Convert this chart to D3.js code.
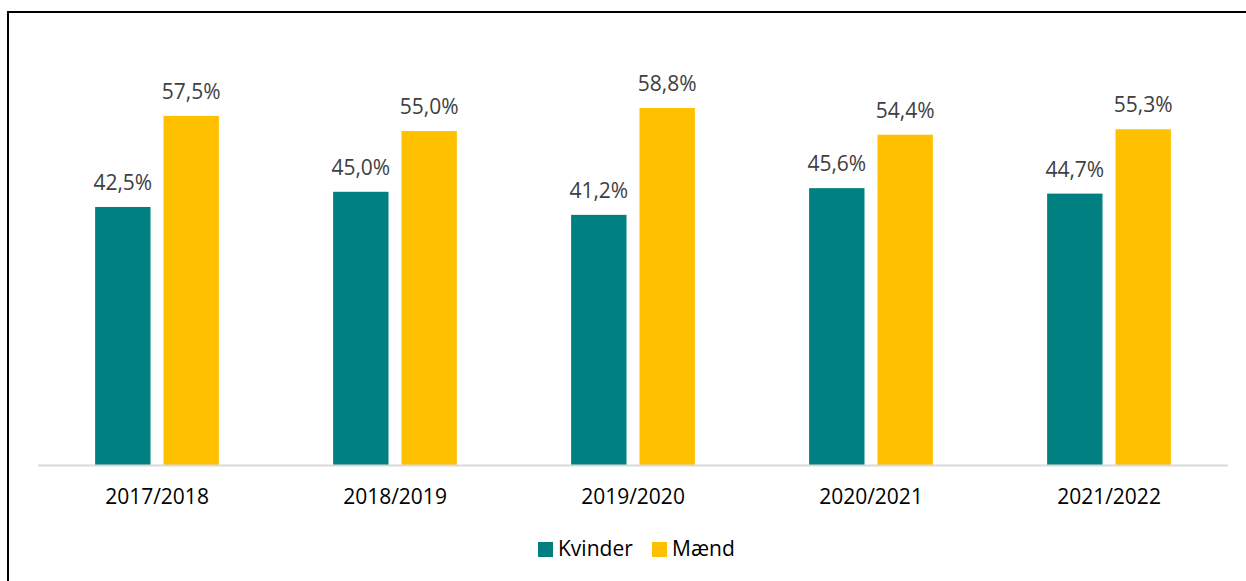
<!DOCTYPE html>
<html lang="da">
<head>
    <meta charset="UTF-8">
    <title>Kvinder og mænd</title>
    <script src="https://d3js.org/d3.v7.min.js"></script>
    <style>
        body { margin: 0; background: #fff; }
        text { font-family: "Open Sans", "Noto Sans", sans-serif; }
        .value { font-size: 21px; fill: #404040; }
        .cat { font-size: 21px; fill: #000; }
        .legend text { font-size: 21px; fill: #000; }
    </style>
</head>
<body>
    <svg width="1246" height="581"></svg>

    <script>
        const years = ["2017/2018", "2018/2019", "2019/2020", "2020/2021", "2021/2022"];
        const kvinder = [42.5, 45.0, 41.2, 45.6, 44.7];
        const maend = [57.5, 55.0, 58.8, 54.4, 55.3];
        const seriesNames = ["Kvinder", "Mænd"];
        const colors = ["#008080", "#FFC000"];

        const svg = d3.select("svg");

        // frame (only top and left visible)
        svg.append("line").attr("x1", 8).attr("x2", 1246).attr("y1", 12).attr("y2", 12)
            .attr("stroke", "#000").attr("stroke-width", 2);
        svg.append("line").attr("x1", 8).attr("x2", 8).attr("y1", 11).attr("y2", 581)
            .attr("stroke", "#000").attr("stroke-width", 2);

        const x = d3.scaleBand().domain(years).range([38, 1228]).paddingInner(0.48).paddingOuter(0.24);
        const xs = d3.scaleBand().domain(seriesNames).range([0, x.bandwidth()]).paddingInner(0.19);
        const y = d3.scaleLinear().domain([0, 70]).range([465, 40]);

        const fmt = v => d3.format(".1f")(v).replace(".", ",") + "%";

        const rows = years.map((yr, i) => ({ year: yr, values: [kvinder[i], maend[i]] }));

        const groups = svg.append("g").selectAll("g")
            .data(rows)
            .enter().append("g")
            .attr("transform", d => `translate(${x(d.year)},0)`);

        const cells = groups.selectAll("g")
            .data(d => d.values.map((v, j) => ({ name: seriesNames[j], v: v, c: colors[j] })))
            .enter().append("g");

        cells.append("rect")
            .attr("x", d => xs(d.name))
            .attr("y", d => y(d.v))
            .attr("width", xs.bandwidth())
            .attr("height", d => y(0) - y(d.v))
            .attr("fill", d => d.c);

        cells.append("text")
            .attr("class", "value")
            .attr("x", d => xs(d.name) + xs.bandwidth() / 2)
            .attr("y", d => y(d.v) - 17)
            .attr("text-anchor", "middle")
            .text(d => fmt(d.v));

        // baseline
        svg.append("line").attr("x1", 38).attr("x2", 1228).attr("y1", y(0) + 0.5).attr("y2", y(0) + 0.5)
            .attr("stroke", "#d9d9d9").attr("stroke-width", 2);

        const xAxis = svg.append("g")
            .attr("transform", `translate(0,${y(0)})`)
            .call(d3.axisBottom(x).tickSize(0).tickPadding(0));
        xAxis.select(".domain").remove();
        xAxis.selectAll("text")
            .attr("class", "cat")
            .attr("dy", null)
            .attr("y", 39)
            .attr("font-family", null)
            .attr("font-size", null)
            .attr("fill", null);

        // legend
        const legend = svg.append("g").attr("class", "legend");
        const legX = [538, 652];
        seriesNames.forEach((n, i) => {
            legend.append("rect").attr("x", legX[i]).attr("y", 542).attr("width", 15).attr("height", 15).attr("fill", colors[i]);
            legend.append("text").attr("x", legX[i] + 20).attr("y", 556).text(n);
        });
    </script>
</body>
</html>
